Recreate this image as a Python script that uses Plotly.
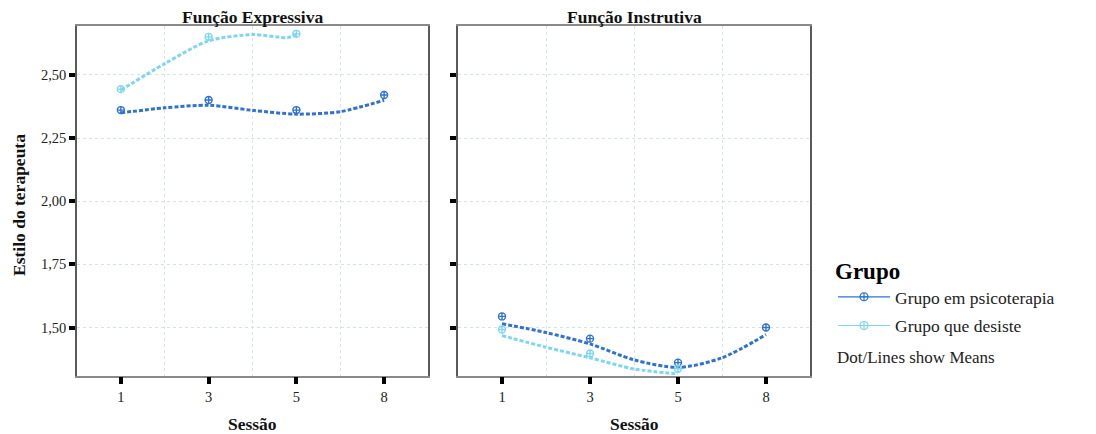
import plotly.graph_objects as go

# ---- data ----
sessions = ["1", "3", "5", "8"]
panels = ["Função Expressiva", "Função Instrutiva"]
groups = ["Grupo em psicoterapia", "Grupo que desiste"]
x_title = "Sessão"
y_title = "Estilo do terapeuta"
note = "Dot/Lines show Means"

# means per session (index positions 0..3 correspond to sessions)
expr_psico_means = [2.361, 2.401, 2.361, 2.421]
expr_desiste_means = [2.444, 2.651, 2.663]
instr_psico_means = [1.544, 1.456, 1.361, 1.500]
instr_desiste_means = [1.492, 1.397, 1.337]

# smoothed curve (x as session index position)
curve_x_full = [0, 0.5, 1, 1.5, 2, 2.5, 3]
curve_x_short = [0, 0.5, 1, 1.5, 1.9, 2]
expr_psico_curve = [2.350, 2.370, 2.380, 2.360, 2.345, 2.355, 2.400]
expr_desiste_curve = [2.440, 2.545, 2.635, 2.660, 2.648, 2.660]
instr_psico_curve = [1.515, 1.480, 1.435, 1.372, 1.342, 1.380, 1.472]
instr_desiste_curve = [1.468, 1.422, 1.380, 1.336, 1.316]
curve_x_instr_desiste = [0, 0.5, 1, 1.5, 2]

y_ticks = [1.50, 1.75, 2.00, 2.25, 2.50]

# ---- styles ----
C_PSI = "#2f72d0"
C_DES = "#7fd6ef"
SERIF = "Liberation Serif"
GRID = "#d3e3e8"

# page body has an 8px margin: figure is placed at (8, 8)
OFF = 8
FW, FH = 1096 - 2 * OFF, 434 - OFF

def px(x):
    return (x - OFF) / FW

def py(y):
    return 1 - (y - OFF) / FH

fig = go.Figure()

def add_panel(xa, ya, psi_means, des_means, psi_cx, psi_cy, des_cx, des_cy):
    fig.add_trace(go.Scatter(x=psi_cx, y=psi_cy, mode="lines", line=dict(color=C_PSI, width=3, dash="4px,2px", shape="spline", smoothing=0.8),
                             xaxis=xa, yaxis=ya, showlegend=False, hoverinfo="skip"))
    fig.add_trace(go.Scatter(x=des_cx, y=des_cy, mode="lines", line=dict(color=C_DES, width=3, dash="4px,2px", shape="spline", smoothing=0.8),
                             xaxis=xa, yaxis=ya, showlegend=False, hoverinfo="skip"))
    fig.add_trace(go.Scatter(x=list(range(len(psi_means))), y=psi_means, mode="markers",
                             marker=dict(symbol="circle-cross-open", size=7, color=C_PSI, line=dict(width=1.4)),
                             xaxis=xa, yaxis=ya, showlegend=False))
    fig.add_trace(go.Scatter(x=list(range(len(des_means))), y=des_means, mode="markers",
                             marker=dict(symbol="circle-cross-open", size=7, color=C_DES, line=dict(width=1.4)),
                             xaxis=xa, yaxis=ya, showlegend=False))

add_panel("x", "y", expr_psico_means, expr_desiste_means, curve_x_full, expr_psico_curve, curve_x_short, expr_desiste_curve)
add_panel("x2", "y2", instr_psico_means, instr_desiste_means, curve_x_full, instr_psico_curve, curve_x_instr_desiste, instr_desiste_curve)

# legend entries
for name, col in zip(groups, [C_PSI, C_DES]):
    fig.add_trace(go.Scatter(x=[None], y=[None], mode="lines+markers", name=name, legendgroup=name,
                             line=dict(color=col, width=1.2),
                             marker=dict(symbol="circle-cross-open", size=8, color=col, line=dict(width=1.2)),
                             xaxis="x", yaxis="y"))

y_dom = [py(375.5), py(26)]
xax_common = dict(range=[-0.5, 3.5], tickvals=[0, 1, 2, 3], ticktext=sessions, showgrid=False,
                  ticks="outside", ticklen=7, tickwidth=4, tickcolor="black",
                  tickfont=dict(family=SERIF, size=14.5, color="#222"),
                  showline=True, linecolor="#8a8a8a", linewidth=1.5, mirror=True, zeroline=False, automargin=False,
                  minor=dict(tickvals=[0.5, 1.5, 2.5], showgrid=True, gridcolor=GRID, griddash="dot", gridwidth=1, ticklen=0))
yax_common = dict(range=[1.31, 2.694], tickvals=y_ticks, tickformat=".2f", showgrid=True, gridcolor=GRID, griddash="dot",
                  ticks="outside", ticklen=6, tickwidth=4, tickcolor="black", automargin=False,
                  showline=True, linecolor="#5a5a5a", linewidth=1.5, mirror=True, zeroline=False)

tfont = dict(family=SERIF, size=17.5, color="#111")

def ann(text, x, y, **kw):
    d = dict(text=text, x=px(x), y=py(y), xref="paper", yref="paper", showarrow=False,
             xanchor="center", yanchor="middle", font=tfont)
    d.update(kw)
    return d

fig.update_layout(
    width=FW, height=FH, margin=dict(l=0, r=0, t=0, b=0),
    paper_bgcolor="white", plot_bgcolor="white", separators=",.",
    xaxis=dict(domain=[px(77), px(428)], anchor="y", **xax_common),
    xaxis2=dict(domain=[px(458), px(810)], anchor="y2", **xax_common),
    yaxis=dict(domain=y_dom, anchor="x", showticklabels=True,
               tickfont=dict(family=SERIF, size=14.5, color="#222"), **yax_common),
    yaxis2=dict(domain=y_dom, anchor="x2", showticklabels=False, **yax_common),
    showlegend=True,
    legend=dict(x=px(833), y=py(249), xanchor="left", yanchor="top",
                title=dict(text="<b>Grupo</b>", font=dict(family=SERIF, size=23, color="black"), side="top"),
                font=dict(family=SERIF, size=17.5, color="#222"), traceorder="grouped", tracegroupgap=3,
                itemwidth=52, bgcolor="rgba(0,0,0,0)"),
    annotations=[
        ann("<b>" + panels[0] + "</b>", (77 + 428) / 2, 17),
        ann("<b>" + panels[1] + "</b>", (458 + 810) / 2, 17),
        ann("<b>" + x_title + "</b>", (77 + 428) / 2, 424),
        ann("<b>" + x_title + "</b>", (458 + 810) / 2, 424),
        ann("<b>" + y_title + "</b>", 19, 205, textangle=-90),
        ann(note, 835, 357, xanchor="left", font=dict(family=SERIF, size=17, color="#222")),
    ],
)

fig.write_html("out.html")
